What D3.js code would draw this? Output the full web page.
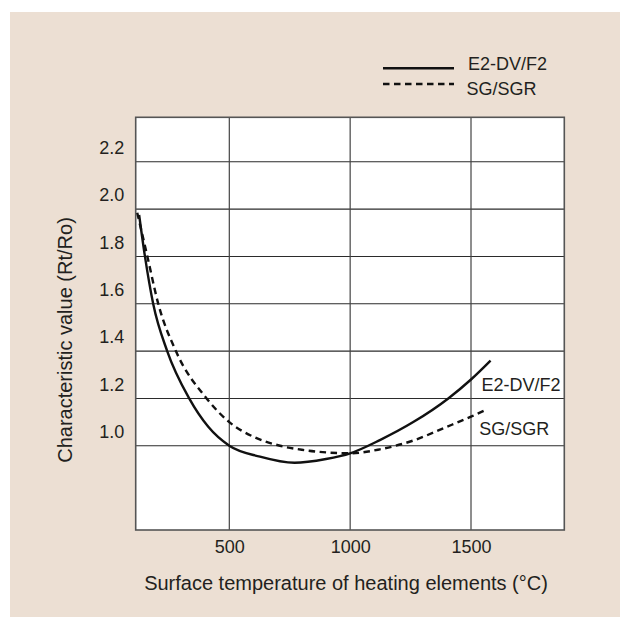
<!DOCTYPE html>
<html>
<head>
<meta charset="utf-8">
<script src="https://cdn.jsdelivr.net/npm/d3@7"></script>
<style>
  body { margin: 0; background: #fff; }
  text { font-family: "Liberation Sans", Arial, Helvetica, sans-serif; fill: #231f20; }
</style>
</head>
<body>
<div id="chart"></div>
<script>
// Data
var seriesNames = ["E2-DV/F2", "SG/SGR"];

var tempE2 = [127, 151, 185, 243, 334, 413, 500, 627, 770, 900, 1000, 1123, 1261, 1406, 1500, 1581];
var ratioE2 = [1.975, 1.80, 1.60, 1.40, 1.20, 1.08, 1.00, 0.954, 0.928, 0.944, 0.968, 1.024, 1.10, 1.20, 1.28, 1.36];

var tempSG = [119, 161, 206, 279, 406, 500, 600, 710, 800, 900, 1000, 1123, 1261, 1400, 1500, 1567];
var ratioSG = [1.985, 1.80, 1.60, 1.40, 1.20, 1.10, 1.038, 1.0, 0.983, 0.972, 0.968, 0.985, 1.022, 1.08, 1.123, 1.154];

var xTicks = [500, 1000, 1500];
var yTicks = [1.0, 1.2, 1.4, 1.6, 1.8, 2.0, 2.2];

// Set up chart
var svgWidth = 620;
var svgHeight = 617;

var plot = { left: 135.7, right: 564.3, top: 117.3, bottom: 530 };

var svg = d3.select("#chart")
    .append("svg")
    .attr("width", svgWidth)
    .attr("height", svgHeight);

// beige panel
svg.append("rect")
    .attr("x", 10)
    .attr("y", 12)
    .attr("width", svgWidth - 10)
    .attr("height", svgHeight - 12)
    .attr("fill", "#ecdfd3");

// Scales
var xScale = d3.scaleLinear()
    .domain([112.7, 1886])
    .range([plot.left, plot.right]);

var yScale = d3.scaleLinear()
    .domain([0.644, 2.388])
    .range([plot.bottom, plot.top]);

// white plot area
svg.append("rect")
    .attr("x", plot.left)
    .attr("y", plot.top)
    .attr("width", plot.right - plot.left)
    .attr("height", plot.bottom - plot.top)
    .attr("fill", "#fff");

// grid lines
svg.append("g").selectAll("line")
    .data(yTicks)
    .enter()
    .append("line")
    .attr("x1", plot.left)
    .attr("x2", plot.right)
    .attr("y1", d => yScale(d))
    .attr("y2", d => yScale(d))
    .attr("stroke", "#2b2b2b")
    .attr("stroke-width", 1.1);

svg.append("g").selectAll("line")
    .data(xTicks)
    .enter()
    .append("line")
    .attr("x1", d => xScale(d))
    .attr("x2", d => xScale(d))
    .attr("y1", plot.top)
    .attr("y2", plot.bottom)
    .attr("stroke", "#444")
    .attr("stroke-width", 1.2);

// frame
svg.append("rect")
    .attr("x", plot.left)
    .attr("y", plot.top)
    .attr("width", plot.right - plot.left)
    .attr("height", plot.bottom - plot.top)
    .attr("fill", "none")
    .attr("stroke", "#555")
    .attr("stroke-width", 1.6);

// Axes (labels only)
var bottomAxis = d3.axisBottom(xScale).tickValues(xTicks).tickSize(0).tickPadding(10)
    .tickFormat(d3.format("d"));
var leftAxis = d3.axisLeft(yScale).tickValues(yTicks).tickSize(0).tickPadding(11.5)
    .tickFormat(d3.format(".1f"));

var xAxisG = svg.append("g")
    .attr("transform", `translate(0, ${plot.bottom})`)
    .call(bottomAxis);

var yAxisG = svg.append("g")
    .attr("transform", `translate(${plot.left}, 0)`)
    .call(leftAxis);

[xAxisG, yAxisG].forEach(function(g) {
    g.select(".domain").remove();
    g.selectAll("text")
        .style("font-size", "18px")
        .attr("font-family", null)
        .attr("fill", "#231f20");
});
// y labels sit a little above their grid lines in the original
yAxisG.selectAll("text").attr("transform", "translate(0,-14)");

// Lines
var line = d3.line()
    .x(d => xScale(d[0]))
    .y(d => yScale(d[1]))
    .curve(d3.curveMonotoneX);

var dataE2 = tempE2.map((t, i) => [t, ratioE2[i]]);
var dataSG = tempSG.map((t, i) => [t, ratioSG[i]]);

svg.append("path")
    .datum(dataSG)
    .attr("d", line)
    .attr("fill", "none")
    .attr("stroke", "#111")
    .attr("stroke-width", 2.4)
    .attr("stroke-dasharray", "6.5,4.5");

svg.append("path")
    .datum(dataE2)
    .attr("d", line)
    .attr("fill", "none")
    .attr("stroke", "#111")
    .attr("stroke-width", 2.4);

// labels at curve ends
var endE2 = dataE2[dataE2.length - 1];
var endSG = dataSG[dataSG.length - 1];

svg.append("text")
    .attr("x", xScale(endE2[0]) - 9)
    .attr("y", yScale(endE2[1]) + 24)
    .attr("dy", "0.35em")
    .style("font-size", "18px")
    .text(seriesNames[0]);

svg.append("text")
    .attr("x", xScale(endSG[0]) - 8)
    .attr("y", yScale(endSG[1]) + 19)
    .attr("dy", "0.35em")
    .style("font-size", "18px")
    .text(seriesNames[1]);

// Legend
var legend = svg.append("g");
legend.append("line")
    .attr("x1", 383).attr("x2", 454)
    .attr("y1", 68.3).attr("y2", 68.3)
    .attr("stroke", "#111").attr("stroke-width", 2.4);
legend.append("line")
    .attr("x1", 383).attr("x2", 454)
    .attr("y1", 84).attr("y2", 84)
    .attr("stroke", "#111").attr("stroke-width", 2.4)
    .attr("stroke-dasharray", "6.5,4.5");
legend.append("text")
    .attr("x", 468).attr("y", 64).attr("dy", "0.35em")
    .style("font-size", "18px")
    .text(seriesNames[0]);
legend.append("text")
    .attr("x", 466.5).attr("y", 88.3).attr("dy", "0.35em")
    .style("font-size", "18px")
    .text(seriesNames[1]);

// Axis titles
svg.append("text")
    .attr("transform", "translate(72, 340) rotate(-90)")
    .attr("text-anchor", "middle")
    .style("font-size", "20px")
    .text("Characteristic value (Rt/Ro)");

svg.append("text")
    .attr("x", 346)
    .attr("y", 590)
    .attr("text-anchor", "middle")
    .style("font-size", "20px")
    .text("Surface temperature of heating elements (°C)");
</script>
</body>
</html>
